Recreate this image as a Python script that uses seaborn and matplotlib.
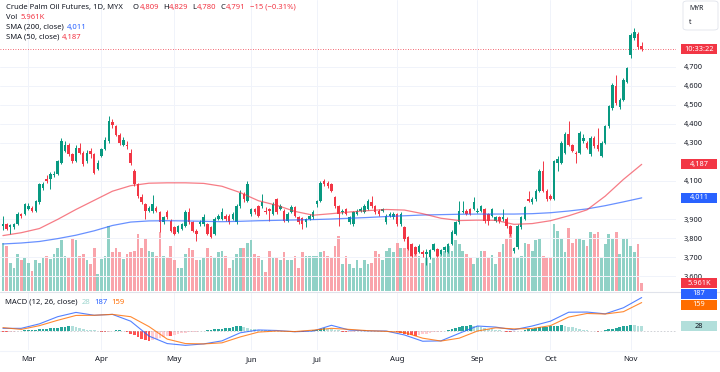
import numpy as np
import pandas as pd
import seaborn as sns
import matplotlib.pyplot as plt
from matplotlib.patches import Rectangle, FancyBboxPatch
from matplotlib.lines import Line2D

sns.set_theme(style="white")
plt.rcParams['font.family'] = ['Noto Sans', 'DejaVu Sans']

# trading days (Bursa holidays taken out)
holidays = ["2024-03-28", "2024-04-10", "2024-04-11", "2024-05-01", "2024-05-22",
            "2024-06-03", "2024-06-17", "2024-07-08", "2024-09-16", "2024-10-31"]
dates = pd.bdate_range("2024-02-21", "2024-11-06", freq="C", holidays=holidays)

opens = [3862, 3874, 3856, 3856, 3874, 3926, 3926, 3952, 3960, 3943,
         3987, 4065, 4109, 4109, 4130, 4135, 4195, 4256, 4291, 4239,
         4204, 4274, 4248, 4204, 4256, 4239, 4161, 4230, 4265, 4309,
         4408, 4387, 4343, 4291, 4291, 4248, 4152, 4083, 4018, 3978,
         3943, 3943, 3960, 3935, 3882, 3935, 3891, 3856, 3830, 3848,
         3865, 3935, 3882, 3839, 3874, 3874, 3874, 3856, 3822, 3900,
         3900, 3917, 3917, 3900, 3882, 3969, 4030, 3995, 3926, 3952,
         3969, 3969, 3944, 3952, 3926, 4004, 3952, 3944, 3891, 3935,
         3961, 3909, 3904, 3882, 3900, 3909, 3978, 3996, 4100, 4091,
         4083, 4013, 3969, 3935, 3952, 3882, 3874, 3926, 3944, 3935,
         3952, 3987, 3969, 3944, 3944, 3882, 3917, 3909, 3926, 3874,
         3856, 3804, 3769, 3752, 3726, 3726, 3717, 3700, 3735, 3743,
         3717, 3735, 3726, 3769, 3822, 3882, 3935, 3944, 3952, 3952,
         3935, 3944, 3952, 3926, 3917, 3891, 3909, 3900, 3900, 3865,
         3730, 3752, 3856, 3900, 4004, 3987, 4004, 4048, 4152, 4048,
         4022, 4004, 4196, 4196, 4248, 4344, 4286, 4248, 4248, 4309,
         4300, 4239, 4326, 4291, 4230, 4300, 4387, 4483, 4596, 4488,
         4526, 4622, 4761, 4848, 4874, 4809]
highs = [3915, 3880, 3872, 3880, 3935, 3930, 3985, 3985, 3968, 4000,
         4090, 4095, 4130, 4145, 4150, 4210, 4325, 4310, 4300, 4245,
         4290, 4300, 4255, 4260, 4275, 4245, 4210, 4275, 4330, 4443,
         4425, 4395, 4350, 4330, 4310, 4265, 4165, 4090, 4030, 3985,
         3970, 4025, 3970, 3940, 3915, 3945, 3900, 3865, 3870, 3880,
         3945, 3960, 3890, 3845, 3895, 3925, 3880, 3865, 3910, 3925,
         3960, 3925, 3925, 3935, 3980, 4050, 4040, 4100, 3960, 3960,
         3975, 4030, 3965, 3960, 3990, 4010, 3980, 3950, 3935, 3975,
         3970, 3915, 3910, 3905, 3925, 3945, 4000, 4100, 4110, 4100,
         4090, 4020, 3975, 3955, 3960, 3915, 3940, 3955, 3965, 3980,
         4005, 4022, 3975, 3950, 3960, 3925, 3935, 3935, 3930, 3935,
         3862, 3810, 3775, 3760, 3770, 3735, 3740, 3745, 3775, 3750,
         3745, 3760, 3775, 3840, 3890, 3995, 3995, 3950, 3960, 4013,
         3960, 3975, 3960, 3930, 3960, 3915, 3915, 3952, 3910, 3870,
         3755, 3875, 3915, 3970, 4048, 4015, 4055, 4160, 4204, 4055,
         4030, 4210, 4230, 4310, 4355, 4413, 4295, 4255, 4360, 4344,
         4310, 4335, 4335, 4378, 4310, 4395, 4500, 4615, 4657, 4535,
         4640, 4700, 4875, 4905, 4880, 4829]
lows = [3840, 3840, 3822, 3850, 3868, 3905, 3920, 3945, 3935, 3938,
        3980, 4050, 4090, 4056, 4120, 4130, 4190, 4250, 4230, 4195,
        4200, 4240, 4180, 4195, 4220, 4135, 4155, 4225, 4260, 4300,
        4380, 4335, 4290, 4285, 4270, 4185, 4075, 4010, 3980, 3900,
        3935, 3930, 3935, 3830, 3875, 3900, 3830, 3815, 3825, 3840,
        3860, 3875, 3830, 3787, 3865, 3865, 3815, 3800, 3815, 3895,
        3895, 3890, 3875, 3895, 3875, 3960, 3990, 3990, 3915, 3925,
        3910, 3960, 3925, 3890, 3920, 3925, 3945, 3885, 3885, 3930,
        3910, 3875, 3850, 3860, 3895, 3900, 3965, 3990, 4075, 4065,
        4040, 3960, 3865, 3925, 3920, 3875, 3865, 3920, 3935, 3930,
        3945, 3960, 3925, 3915, 3935, 3875, 3910, 3900, 3865, 3865,
        3785, 3735, 3700, 3710, 3720, 3700, 3656, 3690, 3730, 3700,
        3710, 3725, 3720, 3765, 3815, 3875, 3930, 3920, 3920, 3945,
        3930, 3935, 3880, 3870, 3910, 3885, 3880, 3890, 3855, 3810,
        3720, 3745, 3850, 3895, 3990, 3980, 3995, 4040, 4040, 3995,
        3998, 3998, 4150, 4190, 4240, 4285, 4250, 4196, 4240, 4300,
        4265, 4230, 4275, 4255, 4225, 4295, 4380, 4475, 4500, 4480,
        4520, 4615, 4744, 4840, 4795, 4780]
closes = [3874, 3848, 3866, 3874, 3926, 3914, 3978, 3970, 3943, 3995,
          4083, 4083, 4100, 4135, 4138, 4204, 4309, 4291, 4239, 4204,
          4274, 4248, 4187, 4248, 4239, 4143, 4196, 4265, 4317, 4413,
          4396, 4343, 4300, 4317, 4283, 4196, 4083, 4022, 3990, 3943,
          3960, 3978, 3943, 3882, 3908, 3909, 3839, 3822, 3865, 3874,
          3935, 3882, 3839, 3822, 3882, 3909, 3822, 3804, 3900, 3917,
          3935, 3900, 3882, 3926, 3969, 4039, 4004, 4083, 3952, 3935,
          3917, 3987, 3935, 3944, 3978, 3935, 3969, 3891, 3926, 3961,
          3917, 3882, 3874, 3900, 3917, 3935, 3996, 4091, 4083, 4074,
          4048, 3969, 3926, 3944, 3926, 3909, 3935, 3944, 3952, 3969,
          3996, 3969, 3935, 3926, 3952, 3917, 3926, 3926, 3874, 3926,
          3795, 3743, 3708, 3717, 3760, 3717, 3726, 3735, 3769, 3708,
          3735, 3752, 3769, 3830, 3882, 3944, 3944, 3926, 3926, 3987,
          3944, 3969, 3891, 3891, 3952, 3909, 3891, 3909, 3865, 3822,
          3747, 3865, 3909, 3961, 3996, 4004, 4048, 4152, 4048, 4004,
          4004, 4204, 4213, 4300, 4344, 4291, 4257, 4239, 4352, 4326,
          4274, 4326, 4283, 4265, 4300, 4387, 4491, 4605, 4509, 4526,
          4631, 4692, 4866, 4883, 4805, 4791]
volume_k = [36, 34, 21, 17, 28, 23, 25, 21, 15, 23,
            21, 25, 26, 24, 28, 32, 38, 26, 25, 39,
            38, 26, 28, 23, 20, 32, 13, 24, 26, 49,
            29, 32, 29, 24, 28, 29, 30, 43, 32, 40,
            30, 29, 26, 44, 26, 25, 34, 23, 17, 17,
            28, 32, 31, 23, 23, 25, 32, 26, 25, 29,
            30, 26, 17, 23, 28, 32, 32, 36, 38, 28,
            26, 23, 14, 30, 25, 25, 23, 29, 23, 23,
            26, 17, 29, 26, 26, 26, 26, 29, 30, 26,
            25, 34, 41, 20, 26, 20, 17, 23, 17, 23,
            20, 21, 30, 28, 23, 30, 32, 29, 36, 32,
            32, 34, 32, 30, 26, 21, 25, 21, 25, 29,
            28, 30, 34, 30, 38, 35, 30, 28, 25, 20,
            25, 30, 30, 25, 27, 20, 29, 35, 39, 49,
            25, 25, 26, 36, 35, 30, 38, 39, 26, 25,
            25, 50, 45, 40, 29, 47, 36, 39, 40, 38,
            34, 44, 43, 44, 25, 35, 43, 39, 44, 28,
            39, 40, 34, 29, 35, 5.961]

# moving averages and MACD lines, read every 5th session
sma50 = [3813, 3828, 3850, 3898, 3950, 3998, 4046, 4075, 4088, 4090,
         4090, 4087, 4072, 4039, 3996, 3972, 3940, 3920, 3928, 3937,
         3944, 3950, 3947, 3928, 3904, 3892, 3894, 3893, 3872, 3876,
         3891, 3917, 3948, 4020, 4108, 4187]
sma200 = [3769, 3774, 3782, 3797, 3815, 3838, 3866, 3884, 3890, 3891,
          3890, 3888, 3886, 3888, 3891, 3893, 3895, 3897, 3900, 3904,
          3908, 3913, 3917, 3921, 3923, 3925, 3926, 3926, 3926, 3928,
          3933, 3942, 3953, 3970, 3990, 4011]
macd_line = [15, 15, 40, 80, 104, 88, 93, 55, -28, -70,
             -80, -72, -55, -10, 6, 3, -4, 0, 32, 5,
             1, 0, -22, -57, -55, -13, 28, 22, 7, 28,
             55, 105, 106, 96, 130, 187]
signal_line = [19, 9, 30, 60, 87, 88, 93, 80, 25, -45,
               -70, -72, -66, -33, -6, 0, -3, 5, 15, 9,
               2, -2, -8, -40, -56, -40, 0, 18, 12, 14,
               30, 78, 98, 95, 108, 159]
macd_hist = [-5, -6, -4, -3, -2, 2, 4, 5, 6, 8,
             10, 13, 14, 15, 16, 18, 20, 24, 28, 27,
             22, 17, 12, 8, 5, 3, 1, -4, -6, -3,
             2, 5, 6, 1, -8, -15, -24, -35, -45, -52,
             -56, -50, -44, -38, -33, -28, -30, -22, -17, -13,
             -10, -7, -5, -3, -2, 2, 5, 8, 10, 12,
             13, 15, 18, 22, 26, 28, 24, 18, 14, 10,
             8, 6, 5, 3, 2, 1, 0, -1, -2, -3,
             -5, -6, -7, -4, -2, 3, 8, 12, 16, 14,
             10, 7, 4, -3, -6, -5, -3, -2, 2, 3,
             2, 1, 0, -1, 1, 2, 1, -2, -5, -10,
             -15, -20, -24, -26, -22, -18, -14, -10, -7, -5,
             -3, -1, 5, 12, 18, 24, 28, 30, 31, 30,
             26, 22, 17, 12, 9, 6, 4, 2, -3, -8,
             -6, -2, 1, 6, 10, 14, 18, 20, 22, 24,
             26, 29, 30, 31, 28, 24, 20, 16, 12, 8,
             5, 2, -2, -3, -1, 6, 9, 12, 16, 22,
             26, 30, 33, 31, 29, 28]

# price scale labels (the ones hidden under the tags are left out)
price_ticks = [3600, 3700, 3800, 3900, 4100, 4300, 4400, 4500, 4600, 4700]

UP, DOWN = "#089981", "#F23645"
BLUE, ORANGE = "#2962FF", "#FF6D00"
DARK = "#131722"
GRID = "#f0f3fa"
W, H = 720, 372


def fx(px):
    return px / W


def fy(px):
    return 1 - px / H


fig = plt.figure(figsize=(W / 100, H / 100), dpi=100)
fig.patch.set_facecolor("white")

ax_vol = fig.add_axes([0, fy(291), fx(676), 291 / H])
ax = ax_vol.twinx()
ax_macd = fig.add_axes([0, fy(350), fx(676), 58 / H])

n = len(closes)
x = np.arange(n)
o = np.array(opens)
c = np.array(closes)
up = c >= o
cols = np.where(up, UP, DOWN)
vol_cols = np.where(up, "#90d1c6", "#f9a4ab")
line_x = np.arange(0, n, 5)

# month ticks on first session of each month
pos = pd.Series(x, index=dates)
month_first = pos.groupby(dates.to_period("M")).first()
month_first = month_first[month_first.index > pd.Period("2024-02", "M")]
month_pos = month_first.values
month_names = [d.strftime("%b") for d in dates[month_pos]]

xlim = (-0.8, 184.4)

# volume underneath
ax_vol.bar(x, volume_k, width=0.75, color=vol_cols, linewidth=0)
ax_vol.set_ylim(0, 218)
ax_vol.set_xlim(*xlim)
ax_vol.set_yticks([])
ax_vol.set_xticks(month_pos)
ax_vol.tick_params(axis="x", length=0, labelbottom=False)
ax_vol.grid(True, axis="x", color=GRID, lw=0.7)
ax_vol.set_facecolor("white")

# candles
ax.vlines(x, lows, highs, colors=cols, lw=0.7, zorder=3)
ax.bar(x, np.maximum(np.abs(c - o), 3), bottom=np.minimum(o, c), width=0.68,
       color=cols, linewidth=0, zorder=4)
sns.lineplot(x=line_x, y=sma200, ax=ax, color=BLUE, linewidth=0.9, alpha=0.7, zorder=5)
sns.lineplot(x=line_x, y=sma50, ax=ax, color=DOWN, linewidth=0.9, alpha=0.65, zorder=5)
ax.axhline(closes[-1], color=DOWN, lw=0.6, ls=(0, (1, 2)), zorder=2)
ax.set_xlim(*xlim)
ax.set_ylim(3522, 5050)
ax.set_yticks(price_ticks)
ax.set_yticklabels([f"{v:,}" for v in price_ticks])
ax.tick_params(axis="y", length=0, pad=5.8, labelsize=5.3, labelcolor=DARK)
ax.tick_params(axis="x", length=0, labelbottom=False)
ax.grid(True, axis="y", color=GRID, lw=0.7)
ax.set_xlabel("")
ax.set_ylabel("")

# MACD pane
hist_cols = []
prev = 0
for v in macd_hist:
    if v >= 0:
        hist_cols.append("#26A69A" if v >= prev else "#B2DFDB")
    else:
        hist_cols.append("#FF5252" if v <= prev else "#FFCDD2")
    prev = v
ax_macd.axhline(0, color="#b2b5be", lw=0.6, ls=(0, (2, 2)), alpha=0.7)
ax_macd.bar(x, macd_hist, width=0.75, color=hist_cols, linewidth=0)
sns.lineplot(x=line_x, y=macd_line, ax=ax_macd, color=BLUE, linewidth=0.8, alpha=0.8)
sns.lineplot(x=line_x, y=signal_line, ax=ax_macd, color=ORANGE, linewidth=0.8, alpha=0.8)
ax_macd.set_xlim(*xlim)
ax_macd.set_ylim(-106, 218)
ax_macd.set_yticks([])
ax_macd.set_xticks(month_pos)
ax_macd.set_xticklabels(month_names)
ax_macd.tick_params(axis="x", length=0, pad=4.5, labelsize=5.6, labelcolor=DARK)
ax_macd.grid(True, axis="x", color=GRID, lw=0.7)
ax_macd.set_xlabel("")
ax_macd.set_ylabel("")

for a in (ax_vol, ax, ax_macd):
    for s in a.spines.values():
        s.set_visible(False)
ax.patch.set_visible(False)

# pane separators
fig.add_artist(Line2D([0, 1], [fy(291.5)] * 2, color="#e0e3eb", lw=0.8))
fig.add_artist(Line2D([0, 1], [fy(350.5)] * 2, color="#f0f3fa", lw=0.8))


def price_tag(axis, value, label, fc, tc="white", dy=0):
    yd = axis.transData.transform((0, value))[1] + dy
    fig.add_artist(Rectangle((fx(681), (yd - 5) / H), 36 / W, 10 / H,
                             transform=fig.transFigure, facecolor=fc,
                             edgecolor="none", zorder=5))
    fig.text(fx(699), yd / H, label, ha="center", va="center", color=tc,
             fontsize=5.3, zorder=6)


price_tag(ax, closes[-1], "10:33:22", DOWN)
price_tag(ax, sma50[-1], f"{sma50[-1]:,}", DOWN)
price_tag(ax, sma200[-1], f"{sma200[-1]:,}", BLUE)
price_tag(ax_macd, macd_hist[-1], f"{macd_hist[-1]}", "#B2DFDB", tc=DARK)
price_tag(ax_macd, macd_line[-1], f"{macd_line[-1]}", BLUE, dy=4)
price_tag(ax_macd, signal_line[-1], f"{signal_line[-1]}", ORANGE, dy=-2)
price_tag(ax_vol, volume_k[-1], f"{volume_k[-1]:.3f}K", DOWN)

# currency box
fig.add_artist(FancyBboxPatch((fx(683), fy(30)), 35 / W, 29 / H,
                              boxstyle="round,pad=0,rounding_size=0.006",
                              transform=fig.transFigure, facecolor="white",
                              edgecolor="#e0e3eb", lw=0.6, zorder=5))
fig.text(fx(689), fy(8.5), "MYR", color=DARK, fontsize=5, va="center", zorder=6)
fig.text(fx(689), fy(22), "t", color=DARK, fontsize=5, va="center", zorder=6)

# legend lines
renderer = fig.canvas.get_renderer()


def text_run(x0, y0, parts, size=5.5):
    xpos = x0
    for s, col, gap in parts:
        t = fig.text(fx(xpos), fy(y0), s, color=col, fontsize=size,
                     ha="left", va="center")
        xpos = t.get_window_extent(renderer).x1 + gap


text_run(6, 7.5, [("Crude Palm Oil Futures, 1D, MYX", DARK, 10),
                  ("O", DARK, 0.5), ("4,809", DOWN, 4),
                  ("H", DARK, 0.5), ("4,829", DOWN, 4),
                  ("L", DARK, 0.5), ("4,780", DOWN, 4),
                  ("C", DARK, 0.5), ("4,791", DOWN, 4),
                  ("\u221215 (\u22120.31%)", DOWN, 0)])
text_run(6, 17.5, [("Vol", DARK, 3), ("5.961K", DOWN, 0)])
text_run(6, 27.5, [("SMA (200, close)", DARK, 3), ("4,011", BLUE, 0)])
text_run(6, 37.5, [("SMA (50, close)", DARK, 3), ("4,187", DOWN, 0)])
text_run(5, 302, [("MACD (12, 26, close)", DARK, 4), ("28", "#9fd6cf", 4),
                  ("187", BLUE, 4), ("159", ORANGE, 0)])

fig.savefig("out.png", dpi=100, facecolor="white")
